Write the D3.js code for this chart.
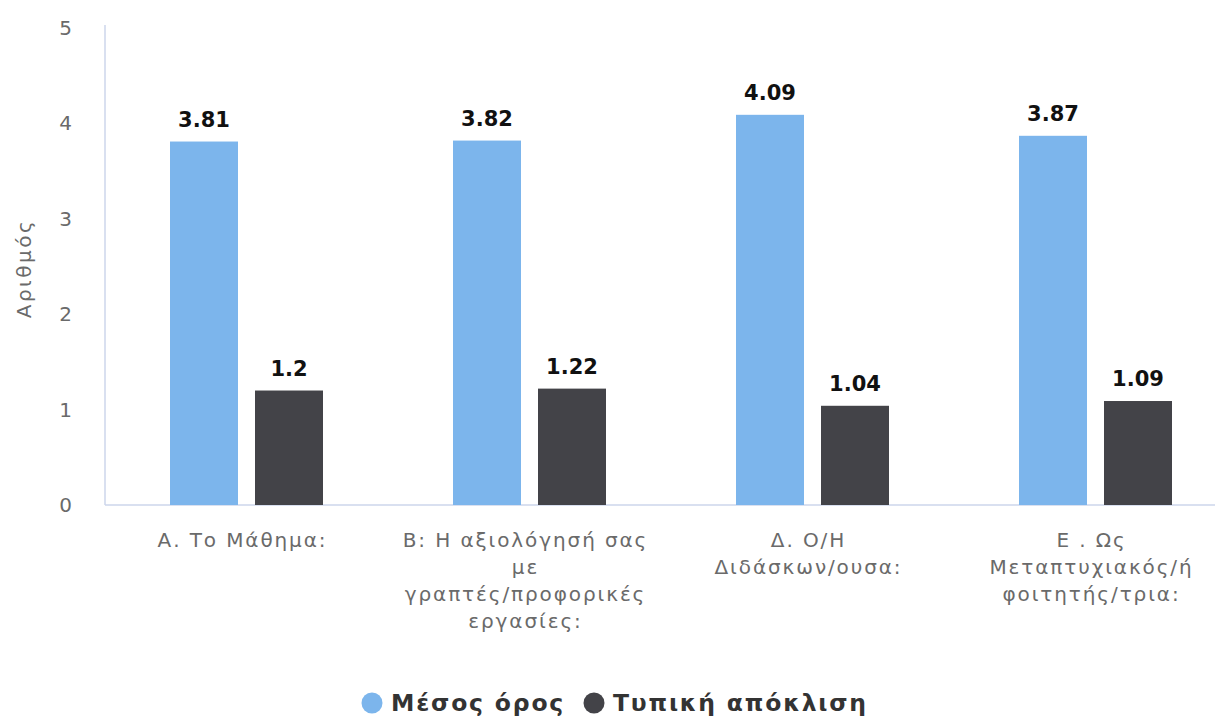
<!DOCTYPE html>
<html>
<head>
<meta charset="utf-8">
<script src="https://cdn.jsdelivr.net/npm/d3@7"></script>
<style>
  body { margin: 0; background: #fff; }
  svg { font-family: "DejaVu Sans", Verdana, sans-serif; }
</style>
</head>
<body>
<div id="chart"></div>
<script>
// chart data
var categories = [
  ["Α. Το Μάθημα:"],
  ["Β: Η αξιολόγησή σας", "με", "γραπτές/προφορικές", "εργασίες:"],
  ["Δ. Ο/Η", "Διδάσκων/ουσα:"],
  ["Ε . Ως", "Μεταπτυχιακός/ή", "φοιτητής/τρια:"]
];
var seriesNames = ["Μέσος όρος", "Τυπική απόκλιση"];
var seriesColors = ["#7cb5ec", "#434348"];
var meanValues = [3.81, 3.82, 4.09, 3.87];
var sdValues = [1.2, 1.22, 1.04, 1.09];
var yTicks = [0, 1, 2, 3, 4, 5];

var svgWidth = 1223;
var svgHeight = 718;

var margin = { top: 28, right: 0, bottom: 213, left: 105 };
var plotRight = 1237;
var height = svgHeight - margin.top - margin.bottom;

var svg = d3.select("#chart")
  .append("svg")
  .attr("width", svgWidth)
  .attr("height", svgHeight);

var keys = categories.map((c, i) => i);

var x0 = d3.scaleBand()
  .domain(keys)
  .range([margin.left, plotRight]);

var groupWidth = 153;
var x1 = d3.scaleBand()
  .domain([0, 1])
  .range([0, groupWidth])
  .paddingInner(0.2);

var y = d3.scaleLinear()
  .domain([0, 5])
  .range([margin.top + height, margin.top]);

// axis lines
svg.append("line")
  .attr("x1", margin.left).attr("x2", margin.left)
  .attr("y1", y(5) - 3).attr("y2", y(0))
  .attr("stroke", "#ccd6eb").attr("stroke-width", 1.5);

svg.append("line")
  .attr("x1", margin.left).attr("x2", 1215)
  .attr("y1", y(0)).attr("y2", y(0))
  .attr("stroke", "#ccd6eb").attr("stroke-width", 1.5);

// y tick labels
svg.append("g")
  .selectAll("text")
  .data(yTicks)
  .enter()
  .append("text")
  .attr("x", 72)
  .attr("y", d => y(d))
  .attr("dy", "0.35em")
  .attr("text-anchor", "end")
  .attr("fill", "#6a6a6a")
  .attr("font-size", 20)
  .text(d => d);

// y axis title
svg.append("text")
  .attr("transform", `translate(31, ${y(2.5) + 2}) rotate(-90)`)
  .attr("text-anchor", "middle")
  .attr("fill", "#6a6a6a")
  .attr("font-size", 20)
  .attr("letter-spacing", 2.5)
  .text("Αριθμός");

// bars
var rows = keys.map(i => [meanValues[i], sdValues[i]]);
var groups = svg.append("g")
  .selectAll("g")
  .data(rows)
  .enter()
  .append("g")
  .attr("transform", (d, i) => `translate(${x0(i) + (x0.bandwidth() - groupWidth) / 2}, 0)`);

groups.selectAll("rect")
  .data(d => d)
  .enter()
  .append("rect")
  .attr("x", (d, j) => x1(j))
  .attr("y", d => y(d))
  .attr("width", x1.bandwidth())
  .attr("height", d => y(0) - y(d))
  .attr("fill", (d, j) => seriesColors[j]);

groups.selectAll("text")
  .data(d => d)
  .enter()
  .append("text")
  .attr("x", (d, j) => x1(j) + x1.bandwidth() / 2)
  .attr("y", d => y(d) - 15)
  .attr("text-anchor", "middle")
  .attr("font-size", 21)
  .attr("font-weight", "bold")
  .attr("fill", "#111")
  .text(d => d);

// x category labels
var xLabels = svg.append("g")
  .selectAll("text")
  .data(categories)
  .enter()
  .append("text")
  .attr("text-anchor", "middle")
  .attr("fill", "#6a6a6a")
  .attr("font-size", 20)
  .attr("letter-spacing", 1.9)
  .attr("x", (d, i) => x0(i) + x0.bandwidth() / 2 - 4);

xLabels.selectAll("tspan")
  .data(d => d)
  .enter()
  .append("tspan")
  .attr("x", function () { return d3.select(this.parentNode).attr("x"); })
  .attr("y", (d, k) => 547 + k * 27)
  .text(d => d);

// legend
var legendX = [372, 594];
var legend = svg.append("g")
  .selectAll("g")
  .data(seriesNames)
  .enter()
  .append("g")
  .attr("transform", (d, i) => `translate(${legendX[i]}, 703)`);

legend.append("circle")
  .attr("r", 10.5)
  .attr("fill", (d, i) => seriesColors[i]);

legend.append("text")
  .attr("x", 19)
  .attr("dy", "0.35em")
  .attr("font-size", 23.5)
  .attr("font-weight", "bold")
  .attr("letter-spacing", 1.8)
  .attr("fill", "#333")
  .text(d => d);
</script>
</body>
</html>
